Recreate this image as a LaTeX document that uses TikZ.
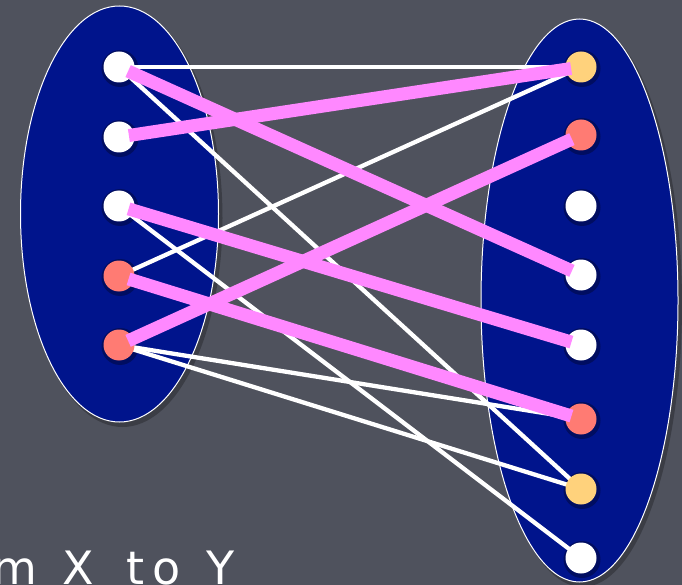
\documentclass[tikz,border=0pt]{standalone}
\usepackage{fontspec}
\newfontfamily\chalkfont[LetterSpace=18]{DejaVu Sans}
\definecolor{bgray}{RGB}{79,82,93}
\definecolor{setblue}{RGB}{0,20,140}
\definecolor{pinkedge}{RGB}{255,136,255}
\definecolor{salmon}{RGB}{255,123,115}
\definecolor{gold}{RGB}{255,210,124}
\pgfdeclarelayer{bg}
\pgfdeclarelayer{edges}
\pgfdeclarelayer{top}
\pgfsetlayers{bg,edges,main,top}
\tikzset{
  setell/.style={draw=white, line width=1pt, fill=setblue},
  dot/.style={circle, inner sep=0pt, minimum size=31pt, fill=#1},
  dot/.default=white,
  wline/.style={draw=white, line width=4.3pt},
  pline/.style={draw=pinkedge, line width=13pt, shorten <=10pt, shorten >=10pt},
}
\begin{document}
\begin{tikzpicture}[x=1pt,y=-1pt]
\useasboundingbox (0,0) rectangle (682,585);
\begin{pgfonlayer}{bg}
\fill[bgray] (-20,-20) rectangle (702,605);
\fill[black, opacity=0.25] (122.5,218) ellipse [x radius=100, y radius=209];
\fill[black, opacity=0.25] (582.5,304.5) ellipse [x radius=99.5, y radius=282.5];
\path[setell] (119.5,214) ellipse [x radius=99, y radius=208];
\path[setell] (579.5,300.5) ellipse [x radius=98.5, y radius=281.5];
\foreach \y in {67,137,206,276,345} {\fill[black,opacity=0.3] (120,\y+1.5) circle (18.5);}
\foreach \y in {67,135,206,275,345,419,489,558} {\fill[black,opacity=0.3] (582,\y+1.5) circle (18.5);}
\end{pgfonlayer}

\node[dot] (L1) at (119,67) {};
\node[dot] (L2) at (119,137) {};
\node[dot] (L3) at (119,206) {};
\node[dot=salmon] (L4) at (119,276) {};
\node[dot=salmon] (L5) at (119,345) {};

\node[dot=gold] (R1) at (581,67) {};
\node[dot=salmon] (R2) at (581,135) {};
\node[dot] (R3) at (581,206) {};
\node[dot] (R4) at (581,275) {};
\node[dot] (R5) at (581,345) {};
\node[dot=salmon] (R6) at (581,419) {};
\node[dot=gold] (R7) at (581,489) {};
\node[dot] (R8) at (581,558) {};

\begin{pgfonlayer}{edges}
\draw[wline] (L1.center) -- (R1.center);
\draw[wline] (L1.center) -- (R7.center);
\draw[wline] (L3.center) -- (R8.center);
\draw[wline] (L4.center) -- (R1.center);
\draw[wline] (L5.center) -- (R6.center);
\draw[wline] (L5.center) -- (R7.center);
\end{pgfonlayer}

\begin{pgfonlayer}{top}
\draw[pline] (L1.center) -- (R4.center);
\draw[pline] (L2.center) -- (R1.center);
\draw[pline] (L3.center) -- (R5.center);
\draw[pline] (L4.center) -- (R6.center);
\draw[pline] (L5.center) -- (R2.center);
\node[anchor=base west, inner sep=0pt, text=white, font=\chalkfont\fontsize{46}{52}\selectfont] (cap) at (-8,584) {m\hspace{3pt} X\hspace{9pt} to\hspace{3pt} Y};
\end{pgfonlayer}
\end{tikzpicture}
\end{document}
